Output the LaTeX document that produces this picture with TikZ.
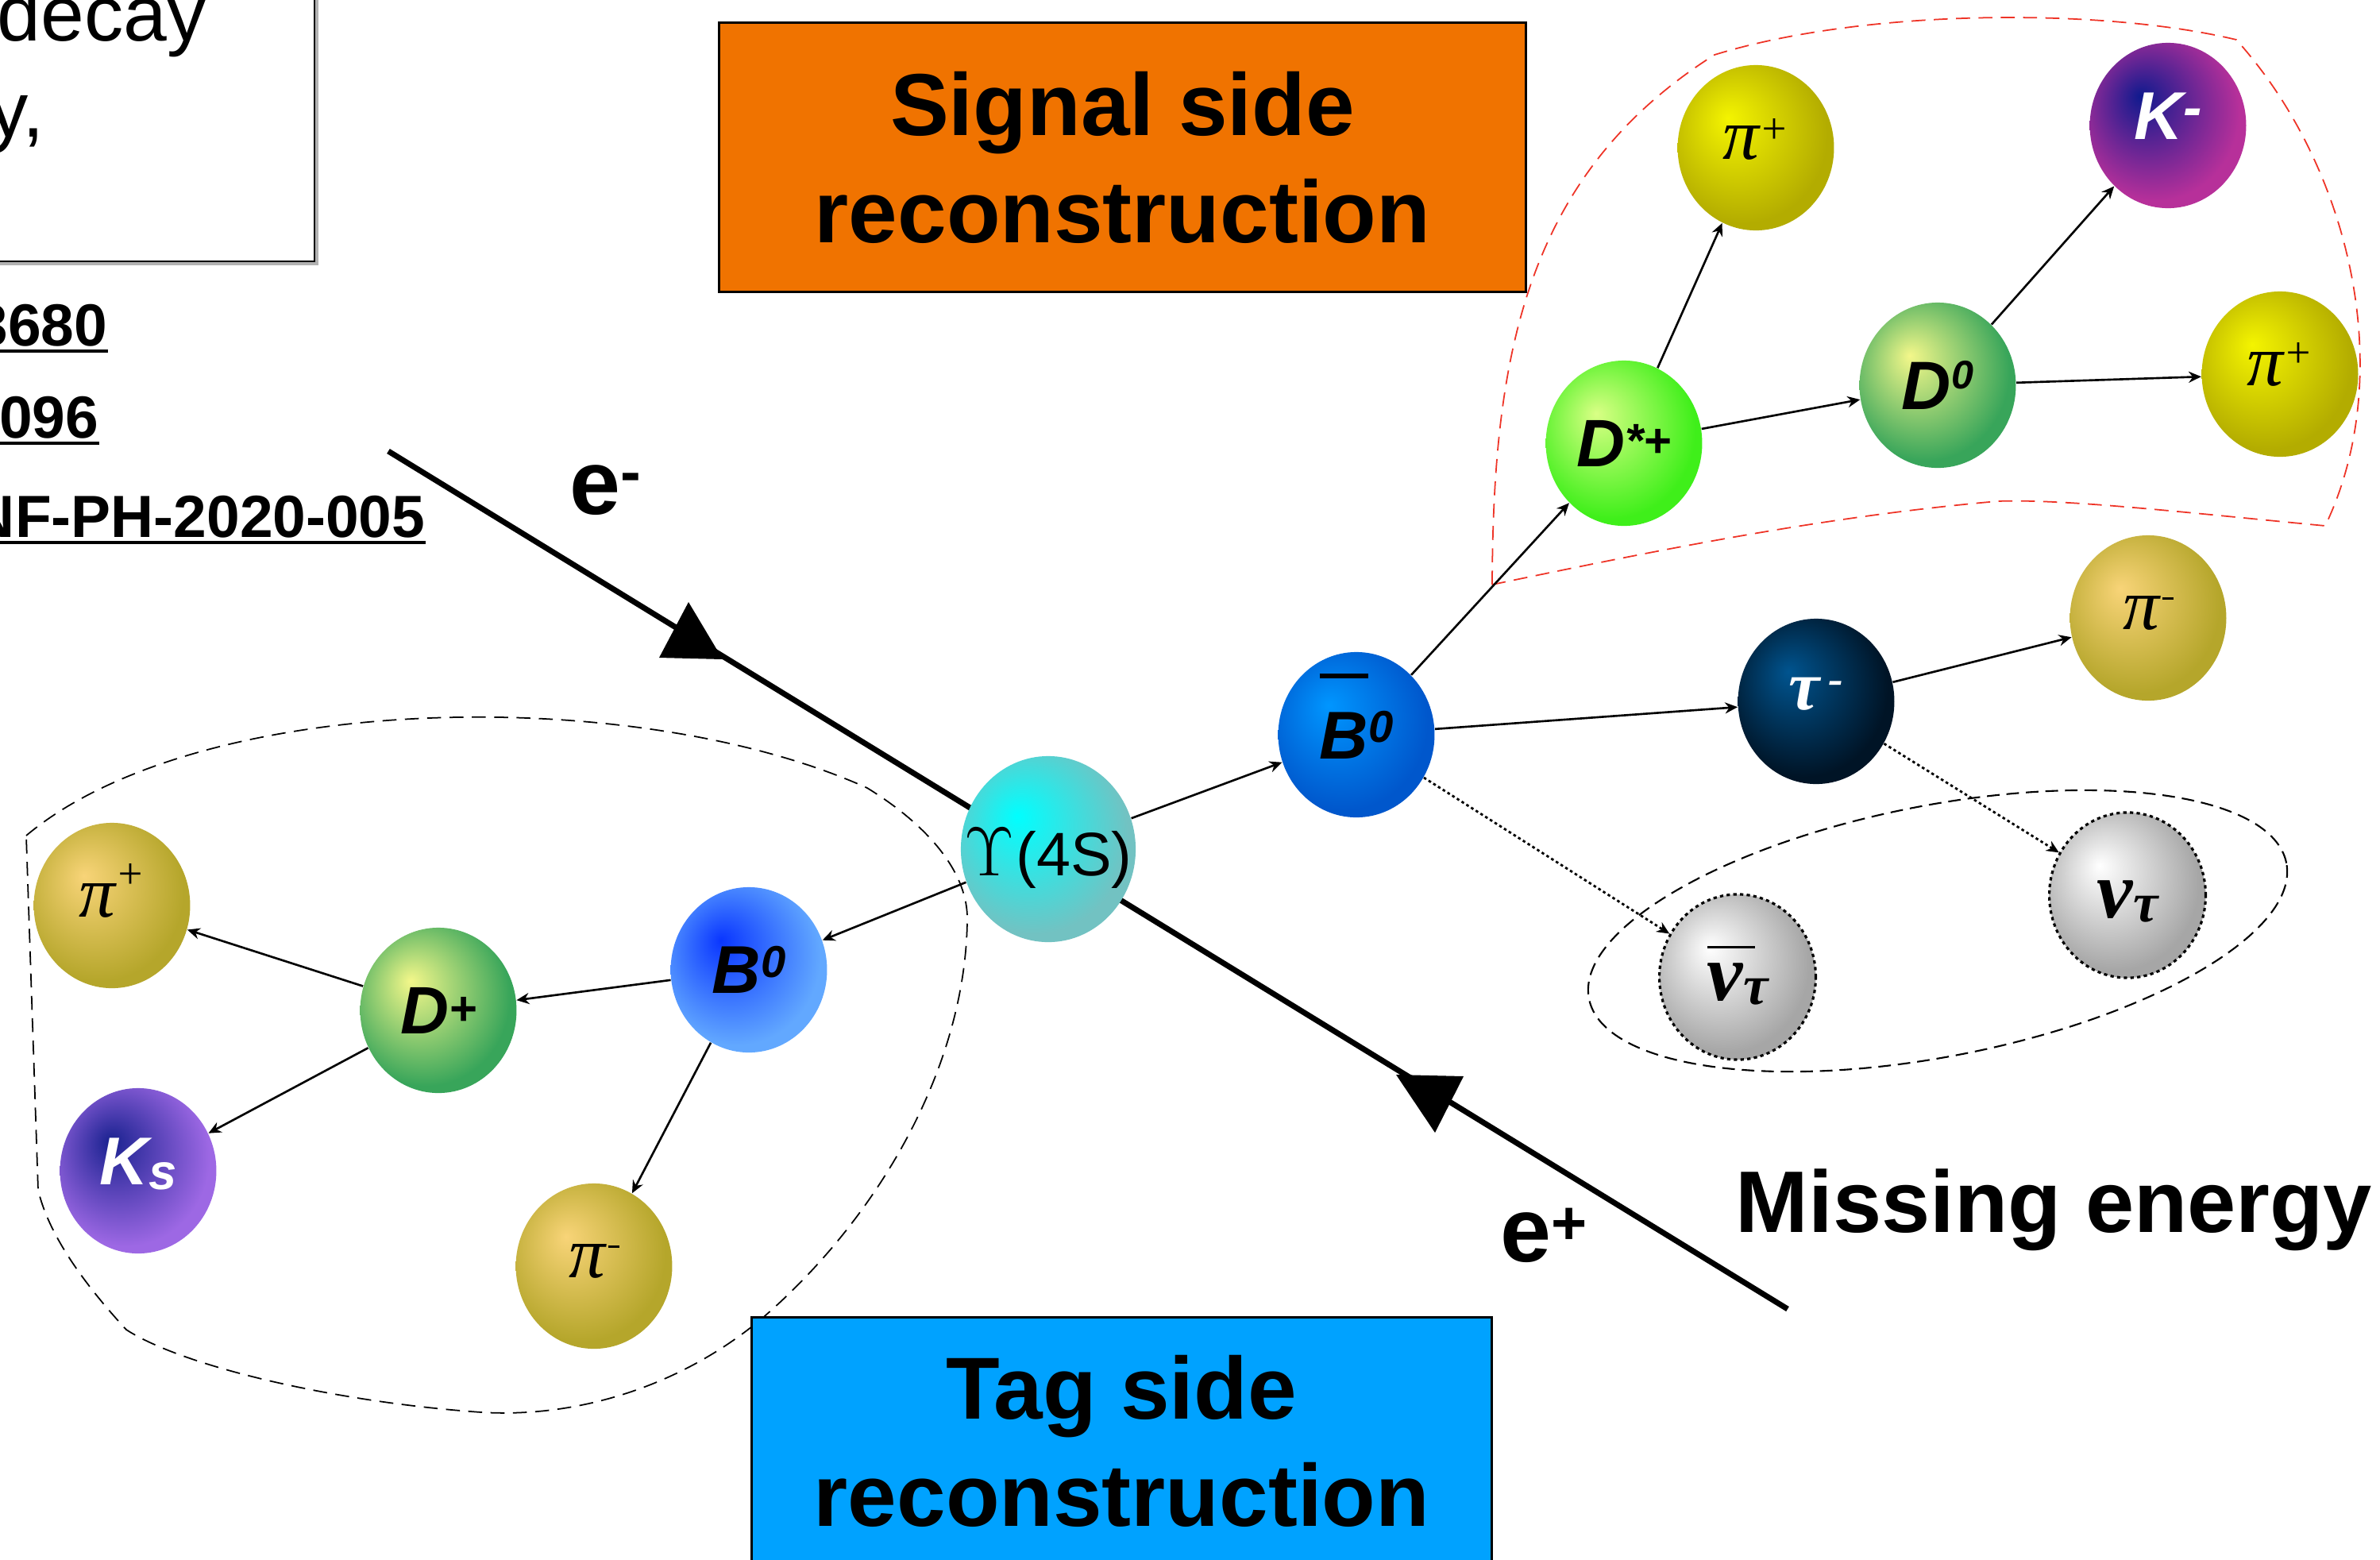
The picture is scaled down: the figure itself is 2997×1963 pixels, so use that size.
\documentclass[tikz,border=0pt]{standalone}
\usepackage{fontspec}
\setmainfont{Liberation Sans}
\newfontfamily\greekserif{Liberation Serif}
\usetikzlibrary{arrows.meta,shapes.geometric}

% font size helper, raised superscript, zero-size bar over a letter
\newcommand\fsz[1]{\fontsize{#1}{#1}\selectfont}
\newcommand\supby[3]{\raisebox{#1}{\fsz{#2}#3}}
\newcommand\overrule[3]{\makebox[0pt][l]{\raisebox{#1}[0pt][0pt]{\rule{#2}{#3}}}}
% small raised minus sign drawn as a bar
\newcommand\minusbar[3]{\hspace{1pt}\raisebox{#1}{\rule{#2}{#3}}}

% off-centre glossy shading for the particle balls
\colorlet{ballin}{white}
\colorlet{ballout}{black}
\pgfdeclareradialshading[ballin,ballout]{glow}{\pgfpoint{-9bp}{9bp}}%
  {color(0bp)=(ballin); color(27bp)=(ballout); color(50bp)=(ballout)}

\definecolor{sigorange}{HTML}{F07300}
\definecolor{tagblue}{HTML}{00A2FF}
\definecolor{regionred}{HTML}{EE3326}
\definecolor{goldin}{HTML}{F8D478}   \definecolor{goldout}{HTML}{B5A62B}
\definecolor{yelin}{HTML}{F4F400}    \definecolor{yelout}{HTML}{B3AC00}
\definecolor{dstarin}{HTML}{D9FF85}  \definecolor{dstarout}{HTML}{3FEF1A}
\definecolor{dmesin}{HTML}{F3F78A}   \definecolor{dmesout}{HTML}{38A55A}
\definecolor{kmin}{HTML}{101A8E}     \definecolor{kmout}{HTML}{B7309A}
\definecolor{ksin}{HTML}{1A2290}     \definecolor{ksout}{HTML}{9D68E4}
\definecolor{bbarin}{HTML}{0096FF}   \definecolor{bbarout}{HTML}{0057CC}
\definecolor{btagin}{HTML}{0A36FF}   \definecolor{btagout}{HTML}{62A8FF}
\definecolor{tauin}{HTML}{00548F}    \definecolor{tauout}{HTML}{001426}
\definecolor{nuout}{HTML}{A6A6A6}
\definecolor{upsin}{HTML}{00FFFF}    \definecolor{upsout}{HTML}{72C2C2}

\tikzset{
  ballcol/.code 2 args={\colorlet{ballin}{#1}\colorlet{ballout}{#2}},
  particle/.style={ellipse, minimum width=56pt, minimum height=59.2pt,
    inner sep=0pt, shading=glow},
  neutrino/.style={particle, ballcol={white}{nuout}, draw=black,
    line width=0.9pt, dash pattern=on 1.2pt off 1.2pt},
  decayline/.style={line width=0.75pt, -{Stealth[length=4.5pt,width=4pt]}},
  missline/.style={line width=0.8pt, dash pattern=on 1pt off 1pt,
    -{Stealth[length=4.5pt,width=4pt]}},
  beam/.style={line width=2pt},
  groupline/.style={line width=0.5pt, dash pattern=on 5pt off 3pt},
  elabel/.style={inner sep=0pt, font=\bfseries\fsz{32.7pt}},
  refnum/.style={inner sep=0pt, font=\bfseries\fsz{21.3pt}},
  recobox/.style={draw=black, line width=0.85pt, inner sep=0pt, align=center,
    font=\bfseries\fontsize{31.5pt}{38.4pt}\selectfont},
  sanslabel/.style={font=\bfseries\itshape},
  pilabel/.style={font=\greekserif\itshape, text height=8pt, text depth=0pt},
}

\begin{document}
\begin{tikzpicture}[x=0.01cm, y=0.01cm]
\useasboundingbox (0,0) rectangle (2997,-1963);
\clip (0,0) rectangle (2997,-1963);

% ---- beam line e- -> Upsilon(4S) <- e+
\coordinate (ein) at (489,-568);
\coordinate (eout) at (2251,-1648);
\draw[beam] (ein) -- (eout);
\fill (867,-758) -- (830,-828) -- (910,-830) -- cycle;
\fill (1758,-1353) -- (1843,-1355) -- (1807,-1426) -- cycle;

% ---- grouping outlines
\draw[groupline] (33,-1052) .. controls (250,-870) and (800,-860) .. (1092,-992)
  .. controls (1170,-1040) and (1220,-1100) .. (1218,-1160)
  .. controls (1215,-1350) and (1100,-1540) .. (957,-1662)
  .. controls (850,-1750) and (720,-1785) .. (606,-1778)
  .. controls (420,-1765) and (230,-1720) .. (159,-1674)
  .. controls (100,-1610) and (60,-1550) .. (48,-1498)
  -- cycle;
\draw[groupline, regionred] (1879,-736) .. controls (1880,-450) and (1920,-220) .. (2159,-69)
  .. controls (2350,-10) and (2650,-10) .. (2816,-50)
  .. controls (2960,-210) and (3020,-470) .. (2928,-662)
  .. controls (2750,-645) and (2600,-628) .. (2516,-631)
  .. controls (2300,-650) and (2100,-690) .. (1879,-736) -- cycle;
\coordinate (misscentre) at (2440,-1172);
\draw[line width=0.6pt, dash pattern=on 4.5pt off 2.5pt, rotate around={11:(misscentre)}]
  (misscentre) ellipse [x radius=127.2pt, y radius=44.95pt];

% ---- note box in the corner and references
\fill[black!30] (-25,25) rectangle (401,-334);
\draw[line width=0.7pt, fill=white] (-30,30) rectangle (396,-329);
\node[anchor=base east, inner sep=0pt, font=\fsz{28pt}] (note1) at (260,-51) {decay};
\node[anchor=base west, inner sep=0pt, font=\fsz{28pt}] (note2) at (-14,-172) {y,};

\node[refnum, anchor=base east] (ref1) at (136,-435) {3680};
\node[refnum, anchor=base east] (ref2) at (125,-551) {096};
\node[refnum, anchor=base east] (ref3) at (536,-676) {NF-PH-2020-005};
\foreach \r in {ref1,ref2,ref3}
  \draw[line width=1pt] ([yshift=-2pt]\r.base west) -- ([yshift=-2pt]\r.base east);

% ---- reconstruction boxes
\node[recobox, fill=sigorange, minimum width=288.8pt, minimum height=96.2pt]
  (sigbox) at (1413.5,-198) {Signal side\\reconstruction};
\node[recobox, fill=tagblue, minimum width=264.9pt, minimum height=88.2pt]
  (tagbox) at (1412.5,-1814) {Tag side\\reconstruction};

% ---- particles
\node[particle, ballcol={upsin}{upsout}, minimum width=62.6pt, minimum height=66.6pt,
  text height=19pt, text depth=0pt] (ups) at (1320,-1069)
  {\makebox[0pt][c]{{\fsz{26pt}$\Upsilon$}\hspace{0.5pt}{\fsz{22pt}(4S)}}};

\node[particle, ballcol={bbarin}{bbarout}, sanslabel] (bbar) at (1708,-925)
  {\fsz{24.2pt}\overrule{28.7pt}{17.4pt}{1.7pt}B\supby{6pt}{16pt}{0}};
\node[particle, ballcol={tauin}{tauout}, text=white, font=\greekserif\bfseries\itshape,
  text height=6pt, text depth=0pt] (tau) at (2287,-883)
  {\fsz{25pt}τ\hspace{3pt}\supby{5.7pt}{16pt}{-}};
\node[particle, ballcol={goldin}{goldout}, pilabel] (pim1) at (2705,-778)
  {\fsz{26pt}π\minusbar{10.5pt}{4pt}{0.9pt}};
\node[particle, ballcol={dstarin}{dstarout}, sanslabel] (dstar) at (2045,-558)
  {\fsz{24pt}D\supby{3.4pt}{17pt}{*+}};
\node[particle, ballcol={yelin}{yelout}, pilabel] (pip1) at (2211,-186)
  {\fsz{26pt}π\supby{5.5pt}{15.6pt}{+}};
\node[particle, ballcol={dmesin}{dmesout}, sanslabel] (dz) at (2440,-485)
  {\fsz{24.5pt}D\supby{7.4pt}{14.3pt}{0}};
\node[particle, ballcol={kmin}{kmout}, sanslabel, text=white,
  text height=10pt, text depth=0pt] (km) at (2730,-158)
  {\fsz{24.2pt}K\supby{4.6pt}{20pt}{-}};
\node[particle, ballcol={yelin}{yelout}, pilabel] (pip2) at (2871,-471)
  {\fsz{26pt}π\supby{6.5pt}{15.6pt}{+}};
\node[neutrino, font=\greekserif\bfseries\itshape, text height=17pt, text depth=0pt]
  (nubar) at (2188,-1230)
  {\fsz{29pt}\overrule{18.8pt}{17pt}{0.7pt}ν\raisebox{-1.4pt}{\fsz{20pt}τ}};
\node[neutrino, font=\greekserif\bfseries\itshape, text height=16pt, text depth=0pt]
  (nu) at (2679,-1127)
  {\fsz{29pt}ν\raisebox{-1.4pt}{\fsz{20pt}τ}};

\node[particle, ballcol={btagin}{btagout}, sanslabel] (btag) at (943,-1221)
  {\fsz{24.2pt}B\supby{5.7pt}{16pt}{0}};
\node[particle, ballcol={dmesin}{dmesout}, sanslabel] (dp) at (552,-1272)
  {\fsz{24pt}D\supby{3.1pt}{17pt}{+}};
\node[particle, ballcol={goldin}{goldout}, pilabel] (pip3) at (141,-1140)
  {\fsz{26pt}π\supby{10pt}{15.6pt}{+}};
\node[particle, ballcol={ksin}{ksout}, sanslabel, text=white,
  text height=10pt, text depth=0pt] (ks) at (174,-1474)
  {\fsz{24.2pt}K\raisebox{-1.7pt}{\fsz{18pt}s}};
\node[particle, ballcol={goldin}{goldout}, pilabel] (pim2) at (748,-1594)
  {\fsz{26pt}π\minusbar{10.5pt}{4pt}{0.9pt}};

% ---- decay chains
\draw[decayline] (ups) -- (bbar);
\draw[decayline] (ups) -- (btag);
\draw[decayline] (bbar) -- (dstar);
\draw[decayline] (bbar) -- (tau);
\draw[missline] (bbar) -- (nubar);
\draw[decayline] (tau) -- (pim1);
\draw[missline] (tau) -- (nu);
\draw[decayline] (dstar) -- (pip1);
\draw[decayline] (dstar) -- (dz);
\draw[decayline] (dz) -- (km);
\draw[decayline] (dz) -- (pip2);
\draw[decayline] (btag) -- (dp);
\draw[decayline] (btag) -- (pim2);
\draw[decayline] (dp) -- (pip3);
\draw[decayline] (dp) -- (ks);

% ---- labels
\node[elabel, anchor=base west] (elec) at (717,-647) {e\supby{7.5pt}{22pt}{-}};
\node[elabel, anchor=base west] (posi) at (1889,-1588) {e\supby{6pt}{22pt}{+}};
\node[inner sep=0pt, anchor=base west, font=\bfseries\fsz{31.3pt}] (missing)
  at (2185,-1551) {Missing energy};
\end{tikzpicture}
\end{document}
